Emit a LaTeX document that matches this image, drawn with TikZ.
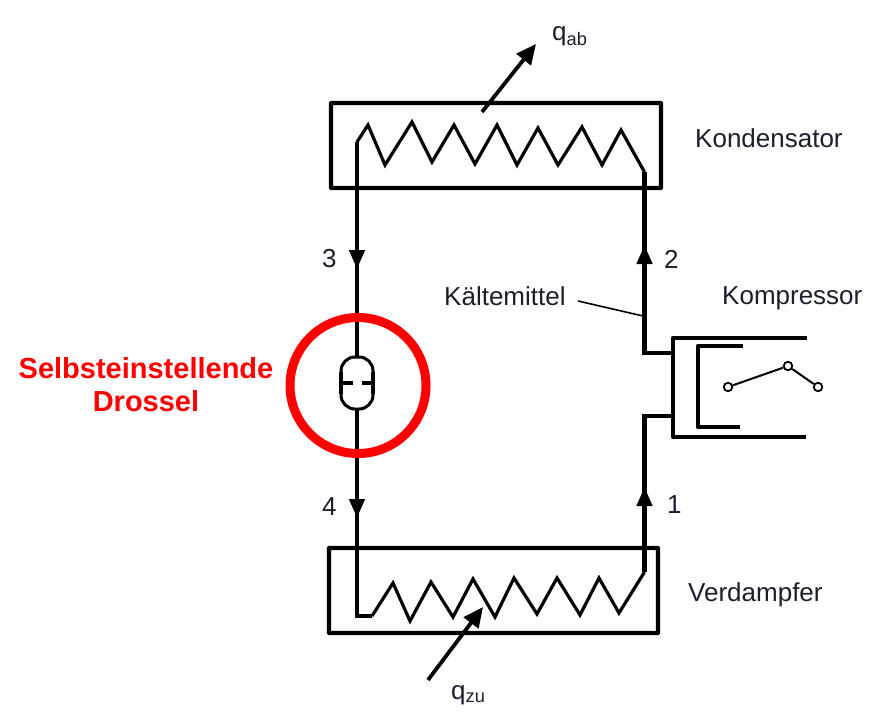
\documentclass[tikz,border=0pt]{standalone}
\usepackage{fontspec}
\setmainfont{Liberation Sans}
\usetikzlibrary{arrows.meta}
\definecolor{lbl}{HTML}{1A1F2B}
\tikzset{
  x=1pt,y=-1pt,
  unit box/.style={draw=black,line width=4.4pt,rounded corners=0.5pt,minimum width=#1,inner sep=0pt,outer sep=0pt},
  wire/.style={draw=black,line width=4.4pt,line join=miter},
  zig/.style={draw=black,line width=3.2pt,line join=miter},
  flow/.style={-{Triangle[length=19pt,width=15pt]},draw=black,line width=4.4pt,shorten >=-1pt},
  heat/.style={-{Triangle[length=20pt,width=18pt]},draw=black,line width=3.8pt},
  lab/.style={text=lbl,font=\fontsize{26}{28}\selectfont,inner sep=0pt,anchor=base west},
  redlab/.style={text=red,font=\fontsize{29}{33}\selectfont\bfseries,align=center,inner sep=0pt},
  pin/.style={circle,draw=black,line width=1.8pt,fill=white,minimum size=8.5pt,inner sep=0pt},
}
\begin{document}
\begin{tikzpicture}
\useasboundingbox (0,0) rectangle (893,714);
% boxes
\node[unit box=330pt,minimum height=85pt] (kond) at (496,145.5) {};
\node[unit box=329pt,minimum height=85pt] (verd) at (493.5,590.5) {};
% named wire points
\coordinate (k1) at (357,142);
\coordinate (k2) at (644.5,172);
\coordinate (v1) at (357,616);
\coordinate (v2) at (372,616);
\coordinate (v3) at (644.5,572);
\coordinate (a3) at (357,268);
\coordinate (a4) at (357,517);
\coordinate (a2) at (644.5,246);
\coordinate (a1) at (644.5,488);
\coordinate (c1) at (673,353);
\coordinate (c2) at (673,416);
\coordinate (t1) at (357,357);
\coordinate (t2) at (357,409);
% coils
\draw[zig] (k1) -- (368,125) -- (385,165) -- (412,122) -- (432,162) -- (454,125) -- (475,164) -- (497,125) -- (517,165) -- (538,128) -- (558,165) -- (582,127) -- (602,165) -- (621,130) -- (k2);
\draw[zig] (v2) -- (393,583) -- (410,621) -- (431,582) -- (453,617) -- (473,579) -- (495,617) -- (514,578) -- (537,614) -- (557,578) -- (580,615) -- (599,578) -- (619,613) -- (v3);
% wires
\draw[wire] (k1) -- (t1);
\draw[wire] (t2) -- (v1) -- (v2);
\draw[wire] (v3) -- (c2 -| v3) -- (c2);
\draw[wire] (c1) -- (c1 -| k2) -- (k2);
\draw[flow] (357,240) -- (a3);
\draw[flow] (357,490) -- (a4);
\draw[flow] (644.5,270) -- (a2);
\draw[flow] (644.5,512) -- (a1);
% throttle
\draw[draw=black,line width=3pt,rounded corners=14pt] (341,357) rectangle (373,409);
\draw[draw=black,line width=3.8pt] (341,383) -- (353,383) (362,383) -- (373,383);
\draw[draw=black,line width=3.8pt] (341,372) -- (341,394) (373,372) -- (373,394);
% compressor
\draw[wire,line join=round] (807,338) -- (673,338) -- (673,437) -- (806,437);
\draw[wire,line join=round] (743,346) -- (698,346) -- (698,427) -- (740,427);
\node[pin] (p1) at (728,387) {};
\node[pin] (p2) at (788,366) {};
\node[pin] (p3) at (818,387) {};
\draw[line width=2pt] (p1) -- (p2) -- (p3);
% heat arrows
\coordinate (qa1) at (482,112);
\coordinate (qa2) at (536,44);
\coordinate (qz1) at (428,680);
\coordinate (qz2) at (483,607);
\draw[heat] (qa1) -- (qa2);
\draw[heat] (qz1) -- (qz2);
% leader
\coordinate (lk) at (578,301);
\coordinate (lw) at (643,316);
\draw[line width=1.6pt] (lk) -- (lw);
% red ring
\node[circle,draw=red,line width=9pt,minimum size=136pt,inner sep=0pt,outer sep=0pt] (ring) at (358,385.5) {};
% labels
\node[lab] (qab) at (552,41) {q\textsubscript{ab}};
\node[lab] (qzu) at (451,699) {q\textsubscript{zu}};
\node[lab] (lkond) at (695,148) {Kondensator};
\node[lab] (lverd) at (688,601) {Verdampfer};
\node[lab] (lkomp) at (722,304) {Kompressor};
\node[lab] (lkm) at (444,305) {Kältemittel};
\node[lab] (n3) at (322,267) {3};
\node[lab] (n2) at (664,268) {2};
\node[lab] (n4) at (322,515) {4};
\node[lab] (n1) at (667,513) {1};
\node[redlab] (drossel) at (146,385) {Selbsteinstellende\\Drossel};
\end{tikzpicture}
\end{document}
